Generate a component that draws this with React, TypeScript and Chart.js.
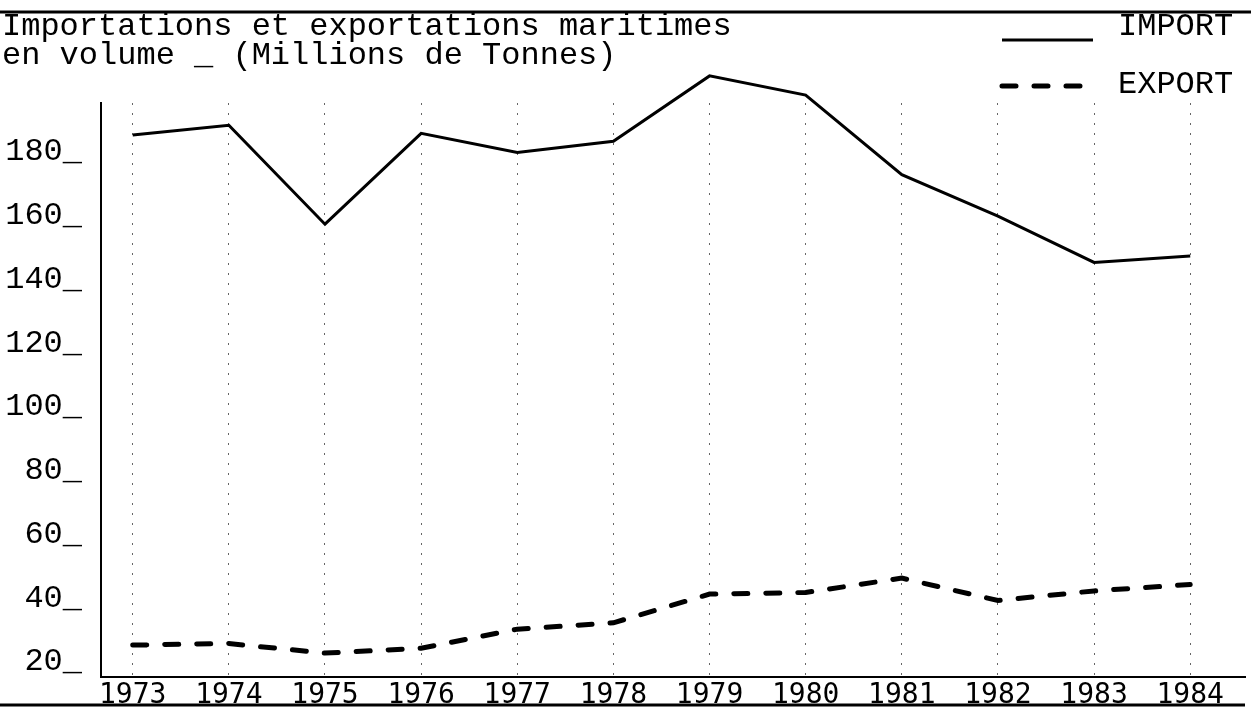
import React, { useEffect, useRef } from 'react';
import { Chart, registerables } from 'chart.js';

Chart.register(...registerables);

const years = [1973, 1974, 1975, 1976, 1977, 1978, 1979, 1980, 1981, 1982, 1983, 1984];
const importValues = [190, 193, 162, 190.5, 184.5, 188, 208.5, 202.5, 177.5, 164.5, 150, 152];
const exportValues = [30, 30.5, 27.5, 29, 35, 37, 46, 46.5, 51, 44, 47, 49];
const yTickValues = [20, 40, 60, 80, 100, 120, 140, 160, 180];
const titleLines = ['Importations et exportations maritimes', 'en volume _ (Millions de Tonnes)'];
const seriesLabels = ['IMPORT', 'EXPORT'];

const MONO = '"Liberation Mono", "Courier New", monospace';

const decorPlugin = {
  id: 'decor',
  afterDraw(chart: any) {
    const ctx = chart.ctx as CanvasRenderingContext2D;
    ctx.save();
    ctx.fillStyle = '#000';
    ctx.strokeStyle = '#000';
    ctx.setLineDash([]);
    // rules
    ctx.lineWidth = 3;
    ctx.beginPath();
    ctx.moveTo(0, 12);
    ctx.lineTo(1251, 12);
    ctx.stroke();
    ctx.beginPath();
    ctx.moveTo(0, 705);
    ctx.lineTo(1245, 705);
    ctx.stroke();
    // title
    ctx.font = `32px ${MONO}`;
    ctx.textBaseline = 'middle';
    ctx.textAlign = 'left';
    titleLines.forEach((t, i) => ctx.fillText(t, 2, 27 + i * 29));
    // legend
    chart.data.datasets.forEach((ds: any, i: number) => {
      const ly = i === 0 ? 40 : 86;
      const ty = i === 0 ? 27 : 85;
      ctx.lineWidth = ds.borderWidth;
      ctx.lineCap = ds.borderCapStyle || 'butt';
      ctx.setLineDash(ds.borderDash || []);
      ctx.beginPath();
      ctx.moveTo(1002, ly);
      ctx.lineTo(1093, ly);
      ctx.stroke();
      ctx.setLineDash([]);
      ctx.fillText(ds.label, 1118, ty);
    });
    ctx.restore();
  },
};

export default function App() {
  const ref = useRef<HTMLCanvasElement | null>(null);

  useEffect(() => {
    document.body.style.margin = '0';
    const canvas = ref.current;
    if (!canvas) return;
    const chart = new Chart(canvas, {
      type: 'line',
      data: {
        datasets: [
          {
            label: seriesLabels[0],
            data: years.map((y, i) => ({ x: y, y: importValues[i] })),
            borderColor: '#000',
            borderWidth: 3,
            pointRadius: 0,
            tension: 0,
            clip: false as any,
          },
          {
            label: seriesLabels[1],
            data: years.map((y, i) => ({ x: y, y: exportValues[i] })),
            borderColor: '#000',
            borderWidth: 5,
            borderDash: [14, 18],
            borderCapStyle: 'round',
            pointRadius: 0,
            tension: 0,
            clip: false as any,
          },
        ],
      },
      options: {
        animation: false,
        responsive: false,
        maintainAspectRatio: false,
        devicePixelRatio: 1,
        layout: { padding: { top: 103, right: 6, left: 0, bottom: 0 } },
        plugins: {
          legend: { display: false },
          title: { display: false },
          tooltip: { enabled: false },
        },
        scales: {
          x: {
            type: 'linear',
            min: 1972.67,
            max: 1984.57,
            afterBuildTicks: (scale: any) => {
              scale.ticks = years.map((v) => ({ value: v }));
            },
            afterFit: (scale: any) => {
              scale.height = 39;
            },
            grid: {
              display: true,
              drawTicks: false,
              color: 'rgba(0,0,0,0.6)',
              lineWidth: 1,
            },
            border: { display: true, color: '#000', width: 2, dash: [2, 8] },
            ticks: {
              padding: 2,
              color: '#000',
              font: { family: '"DejaVu Sans Mono", monospace', size: 28 },
              callback: (v: any) => String(v),
              maxRotation: 0,
              autoSkip: false,
            },
          },
          y: {
            type: 'linear',
            min: 20,
            max: 200,
            afterBuildTicks: (scale: any) => {
              scale.ticks = yTickValues.map((v) => ({ value: v }));
            },
            afterFit: (scale: any) => {
              scale.width = 101;
            },
            grid: { display: false, drawTicks: false },
            border: { display: true, color: '#000', width: 2 },
            ticks: {
              padding: 19,
              labelOffset: -15,
              color: '#000',
              font: { family: MONO, size: 32 },
              callback: (v: any) => `${v}_`,
            },
          },
        },
      },
      plugins: [decorPlugin],
    });
    return () => chart.destroy();
  }, []);

  return (
    <div style={{ width: 1251, height: 716, background: '#fff' }}>
      <canvas ref={ref} width={1251} height={716} style={{ display: 'block' }} />
    </div>
  );
}
